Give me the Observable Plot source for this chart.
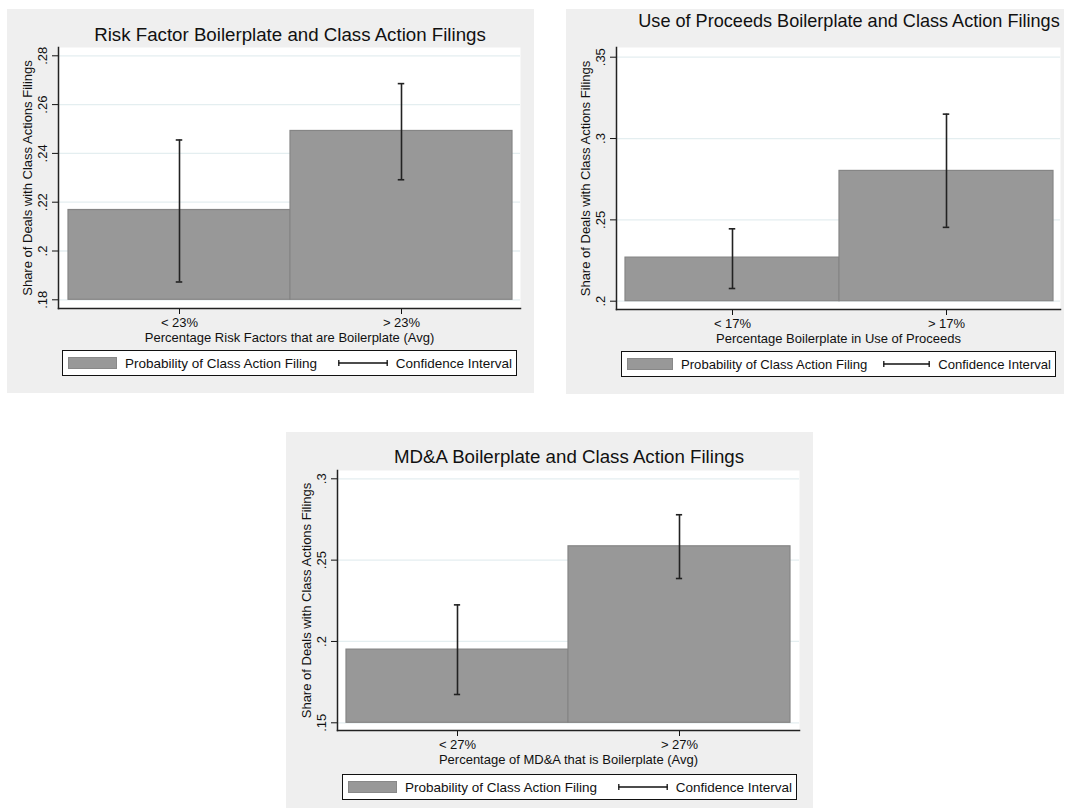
<!DOCTYPE html>
<html><head><meta charset="utf-8">
<script src="https://cdn.jsdelivr.net/npm/d3@7"></script>
<script src="https://cdn.jsdelivr.net/npm/@observablehq/plot@0.6"></script>
<style>
body{margin:0;background:#fff;font-family:"Liberation Sans",Arial,sans-serif;}
#page{position:relative;width:1065px;height:810px;overflow:hidden;}
.panel{position:absolute;background:#efefef;}
.title{position:absolute;color:#111;white-space:nowrap;transform:translate(-50%,-50%);}
.svgwrap{position:absolute;}
.legend{position:absolute;border:1.5px solid #111;background:#fff;box-sizing:border-box;display:flex;align-items:center;justify-content:space-between;color:#111;white-space:nowrap;padding:0 4px 0 5px;}
.legend .item{display:flex;align-items:center;}
.legend .sw{height:12px;background:#989898;border:1px solid #888;box-sizing:border-box;margin-right:8px;}
.legend svg{margin-right:8px;}
</style></head><body><div id="page"></div>
<script>
// ---- Panel 1: Risk Factor boilerplate ----
const riskTitle = "Risk Factor Boilerplate and Class Action Filings";
const riskXTitle = "Percentage Risk Factors that are Boilerplate (Avg)";
const riskCategories = ["< 23%", "> 23%"];
const riskMeans = [0.2168, 0.2492];
const riskLow = [0.1873, 0.2292];
const riskHigh = [0.2455, 0.2686];
const riskTicks = [0.18, 0.20, 0.22, 0.24, 0.26, 0.28];

// ---- Panel 2: Use of Proceeds boilerplate ----
const procTitle = "Use of Proceeds Boilerplate and Class Action Filings";
const procXTitle = "Percentage Boilerplate in Use of Proceeds";
const procCategories = ["< 17%", "> 17%"];
const procMeans = [0.2268, 0.2801];
const procLow = [0.2078, 0.2454];
const procHigh = [0.2445, 0.3150];
const procTicks = [0.20, 0.25, 0.30, 0.35];

// ---- Panel 3: MD&A boilerplate ----
const mdaTitle = "MD&A Boilerplate and Class Action Filings";
const mdaXTitle = "Percentage of MD&A that is Boilerplate (Avg)";
const mdaCategories = ["< 27%", "> 27%"];
const mdaMeans = [0.1950, 0.2585];
const mdaLow = [0.1674, 0.2387];
const mdaHigh = [0.2225, 0.2779];
const mdaTicks = [0.15, 0.20, 0.25, 0.30];

const yTitle = "Share of Deals with Class Actions Filings";
const legendBar = "Probability of Class Action Filing";
const legendCI = "Confidence Interval";

const fmt = d => d3.format(".2~f")(d).replace(/^0/, "");

function panel(cfg, L) {
  const page = document.getElementById("page");
  const bg = document.createElement("div");
  bg.className = "panel";
  Object.assign(bg.style, {left: L.bx + "px", top: L.by + "px", width: L.bw + "px", height: L.bh + "px"});
  page.appendChild(bg);

  const t = document.createElement("div");
  t.className = "title";
  t.textContent = cfg.title;
  Object.assign(t.style, {left: L.tx + "px", top: L.ty + "px", fontSize: L.tf + "px"});
  page.appendChild(t);

  const rows = cfg.cats.map((c, i) => ({cat: c, mean: cfg.means[i], lo: cfg.low[i], hi: cfg.high[i]}));
  const base = cfg.ticks[0];
  const bw = (L.xr[1] - L.xr[0]) / cfg.cats.length;
  const capInset = (bw - 7) / 2;

  const svg = Plot.plot({
    width: L.bw, height: L.sh,
    marginLeft: L.ml, marginRight: L.mr, marginTop: L.mt, marginBottom: L.mb,
    style: {background: "transparent", fontFamily: '"Liberation Sans", Arial, sans-serif', color: "#111", overflow: "visible"},
    x: {type: "band", domain: cfg.cats, range: L.xr, padding: 0},
    y: {domain: [cfg.ticks[0], cfg.ticks[cfg.ticks.length - 1]], range: L.yr},
    marks: [
      Plot.frame({fill: "white", stroke: null}),
      Plot.gridY(cfg.ticks, {stroke: "#e4eef0", strokeOpacity: 1, strokeWidth: 1.3}),
      Plot.barY(rows, {x: "cat", y1: base, y2: "mean", fill: "#989898", stroke: "#858585", strokeWidth: 1.2, insetLeft: 0, insetRight: 0}),
      Plot.ruleX(rows, {x: "cat", y1: "lo", y2: "hi", stroke: "#222", strokeWidth: 1.6}),
      Plot.tickY(rows, {x: "cat", y: "lo", stroke: "#222", strokeWidth: 1.6, insetLeft: capInset, insetRight: capInset}),
      Plot.tickY(rows, {x: "cat", y: "hi", stroke: "#222", strokeWidth: 1.6, insetLeft: capInset, insetRight: capInset}),
      Plot.axisY(cfg.ticks, {tickFormat: fmt, tickRotate: -90, tickSize: 6, tickPadding: 6, fontSize: 13,
        label: yTitle, labelAnchor: "center", labelOffset: 36, labelArrow: "none"}),
      Plot.axisX({tickSize: 6, tickPadding: 3, fontSize: 13, label: cfg.xTitle, labelAnchor: "center", labelOffset: 33, labelArrow: "none"}),
      Plot.frame({anchor: "left", stroke: "#222", strokeWidth: 1.5}),
      Plot.frame({anchor: "bottom", stroke: "#222", strokeWidth: 1.5})
    ]
  });
  const wrap = document.createElement("div");
  wrap.className = "svgwrap";
  Object.assign(wrap.style, {left: L.bx + "px", top: L.sy + "px"});
  wrap.appendChild(svg);
  page.appendChild(wrap);

  const lg = document.createElement("div");
  lg.className = "legend";
  Object.assign(lg.style, {left: L.lx + "px", top: L.ly + "px", width: L.lw + "px", height: L.lh + "px", fontSize: L.lf + "px"});
  const k = L.key;
  lg.innerHTML = `<div class="item"><div class="sw" style="width:${k}px"></div><span>${legendBar}</span></div>
    <div class="item"><svg width="${k + 1}" height="8"><line x1="0.5" x2="${k + 0.5}" y1="4" y2="4" stroke="#111" stroke-width="1.3"/><line x1="0.8" x2="0.8" y1="1" y2="7" stroke="#111" stroke-width="1.3"/><line x1="${k + 0.2}" x2="${k + 0.2}" y1="1" y2="7" stroke="#111" stroke-width="1.3"/></svg><span>${legendCI}</span></div>`;
  page.appendChild(lg);
}

panel({title: riskTitle, xTitle: riskXTitle, cats: riskCategories, means: riskMeans, low: riskLow, high: riskHigh, ticks: riskTicks},
  {bx: 7, by: 9, bw: 527, bh: 384, tx: 290, ty: 35, tf: 18.7, sy: 40, sh: 306, ml: 51, mr: 14, mt: 7, mb: 38,
   xr: [60, 505], yr: [259.3, 15.3], lx: 62, ly: 350, lw: 455, lh: 26, lf: 13.5, key: 49});

panel({title: procTitle, xTitle: procXTitle, cats: procCategories, means: procMeans, low: procLow, high: procHigh, ticks: procTicks},
  {bx: 566, by: 9, bw: 498, bh: 385, tx: 849, ty: 21, tf: 18.1, sy: 40, sh: 306, ml: 50, mr: 4, mt: 7, mb: 37,
   xr: [58, 487], yr: [260.7, 16.7], lx: 621, ly: 351, lw: 435, lh: 26, lf: 13.1, key: 46});

panel({title: mdaTitle, xTitle: mdaXTitle, cats: mdaCategories, means: mdaMeans, low: mdaLow, high: mdaHigh, ticks: mdaTicks},
  {bx: 286, by: 432, bw: 527, bh: 376, tx: 569, ty: 457, tf: 18.7, sy: 463, sh: 306, ml: 51, mr: 14, mt: 7, mb: 39,
   xr: [59.5, 505], yr: [259.3, 15.3], lx: 342, ly: 774, lw: 455, lh: 26, lf: 13.5, key: 49});
</script>
</body></html>
